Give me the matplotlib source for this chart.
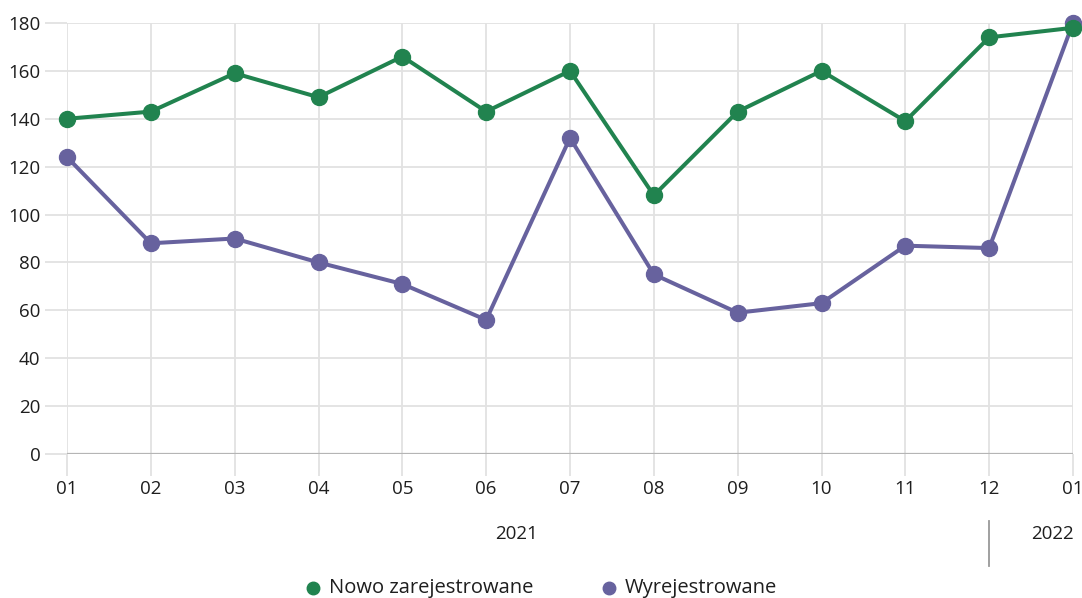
import matplotlib.pyplot as plt
from matplotlib.lines import Line2D

months = ['01', '02', '03', '04', '05', '06', '07', '08', '09', '10', '11', '12', '01']
nowo = [140, 143, 159, 149, 166, 143, 160, 108, 143, 160, 139, 174, 178]
wyrej = [124, 88, 90, 80, 71, 56, 132, 75, 59, 63, 87, 86, 180]
yticks = [0, 20, 40, 60, 80, 100, 120, 140, 160, 180]

green = '#21834f'
purple = '#67629e'
grid_c = '#e2e2e2'
txt_c = '#1e1e1e'

plt.rcParams['font.family'] = ['Open Sans', 'DejaVu Sans']

fig = plt.figure(figsize=(10.82, 5.98), dpi=100)
ax = fig.add_axes([67 / 1082, 144 / 598, 1006 / 1082, 431 / 598])

x = list(range(len(months)))
ax.plot(x, nowo, color=green, lw=2.9, marker='o', ms=11.5, clip_on=False, zorder=4)
ax.plot(x, wyrej, color=purple, lw=2.9, marker='o', ms=11.5, clip_on=False, zorder=3)

ax.set_xlim(0, len(months) - 1)
ax.set_ylim(0, 180)
ax.set_xticks(x)
ax.set_xticklabels(months)
ax.set_yticks(yticks)
ax.grid(True, color=grid_c, lw=1.3)
ax.set_axisbelow(True)
for s in ax.spines.values():
    s.set_visible(False)
ax.axhline(0, color='#b5b5b5', lw=1.6, zorder=2)
ax.tick_params(axis='both', length=16, width=1.3, color=grid_c, labelsize=13.5,
               labelcolor=txt_c, pad=3)

# year labels
ax.text(5.36, -0.185, '2021', transform=ax.get_xaxis_transform(), ha='center',
        va='center', fontsize=13.5, color=txt_c)
ax.text(11.75, -0.185, '2022', transform=ax.get_xaxis_transform(), ha='center',
        va='center', fontsize=13.5, color=txt_c)
ax.plot([11, 11], [-0.155, -0.26], transform=ax.get_xaxis_transform(),
        color='#999999', lw=1.3, clip_on=False)

# legend
fig.add_artist(Line2D([313 / 1082], [1 - 588 / 598], marker='o', ms=9, color=green,
                      lw=0, transform=fig.transFigure))
fig.text(329 / 1082, 1 - 588 / 598, 'Nowo zarejestrowane', fontsize=14.5,
         color=txt_c, va='center')
fig.add_artist(Line2D([609 / 1082], [1 - 588 / 598], marker='o', ms=9, color=purple,
                      lw=0, transform=fig.transFigure))
fig.text(625 / 1082, 1 - 588 / 598, 'Wyrejestrowane', fontsize=14.5,
         color=txt_c, va='center')

fig.savefig('out.png', dpi=100)
